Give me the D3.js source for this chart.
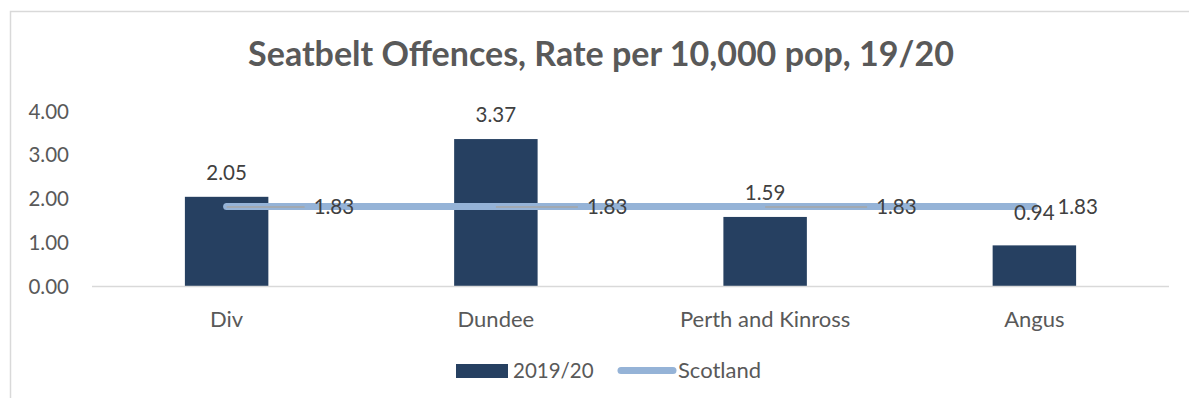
<!DOCTYPE html>
<html>
<head>
<meta charset="utf-8">
<script src="https://cdn.jsdelivr.net/npm/d3@7"></script>
<style>
  html, body { margin: 0; padding: 0; background: #fff; }
  svg { display: block; font-family: Lato, "Open Sans", sans-serif; }
</style>
</head>
<body>
<svg width="1189" height="398"></svg>
<script>
var width = 1189, height = 398;

// data
var categories = ["Div", "Dundee", "Perth and Kinross", "Angus"];
var rate1920 = [2.05, 3.37, 1.59, 0.94];
var scotland = [1.83, 1.83, 1.83, 1.83];
var yTicks = [0, 1, 2, 3, 4];
var seriesNames = ["2019/20", "Scotland"];
var title = "Seatbelt Offences, Rate per 10,000 pop, 19/20";

// label placement (as dragged in the original)
var barLabelGap = [17, 17, 17, 25];
var scotLabelDx = [87, 91, 111, 23];

var barColor = "#264061", lineColor = "#95B3D7", textGrey = "#595959", labelText = "#404040";
var numSize = 20.5, wordSize = 22;

var svg = d3.select("svg");

// outer chart frame
svg.append("rect")
    .attr("x", 10.5).attr("y", 11.5)
    .attr("width", 1200).attr("height", 420)
    .attr("fill", "none")
    .attr("stroke", "#d9d9d9")
    .attr("stroke-width", 1.5);

var margin = {left: 92, right: 1169, top: 111.5, bottom: 286.5};

var x = d3.scaleBand().domain(categories).range([margin.left, margin.right]).paddingInner(0.69).paddingOuter(0.345);
var y = d3.scaleLinear().domain([0, 4]).range([margin.bottom, margin.top]);

// title
var t = svg.append("text")
    .attr("x", 601).attr("y", 66)
    .attr("text-anchor", "middle")
    .attr("font-weight", "bold")
    .attr("font-size", 30)
    .attr("fill", textGrey)
    .text(title);
var tw = t.node().getComputedTextLength();
t.attr("font-size", 30 * 706 / tw);

// y axis (labels only)
var yAxis = svg.append("g")
    .attr("transform", "translate(" + 69 + ",0)")
    .call(d3.axisLeft(y).tickValues(yTicks).tickFormat(d3.format(".2f")).tickSize(0).tickPadding(0));
yAxis.select(".domain").remove();
yAxis.selectAll("text")
    .attr("font-family", "Lato, sans-serif")
    .attr("font-size", numSize)
    .attr("fill", textGrey);

// bars
svg.append("g").selectAll("rect")
    .data(categories)
    .join("rect")
    .attr("x", function (d) { return x(d); })
    .attr("y", function (d, i) { return y(rate1920[i]); })
    .attr("width", x.bandwidth())
    .attr("height", function (d, i) { return y(0) - y(rate1920[i]); })
    .attr("fill", barColor);

// x axis baseline + category labels
var xAxis = svg.append("g")
    .attr("transform", "translate(0," + y(0) + ")")
    .call(d3.axisBottom(x).tickSize(0).tickPadding(25));
xAxis.select(".domain")
    .attr("stroke", "#d9d9d9")
    .attr("stroke-width", 1.5)
    .attr("d", "M" + margin.left + ",0H" + margin.right);
xAxis.selectAll("text")
    .attr("font-family", "Lato, sans-serif")
    .attr("font-size", wordSize)
    .attr("fill", textGrey);

// Scotland line
var cx = function (d) { return x(d) + x.bandwidth() / 2; };
var line = d3.line()
    .x(function (d, i) { return cx(categories[i]); })
    .y(function (d) { return y(d); });

svg.append("path")
    .datum(scotland)
    .attr("d", line)
    .attr("fill", "none")
    .attr("stroke", lineColor)
    .attr("stroke-width", 7)
    .attr("stroke-linecap", "round");

// leader lines for Scotland labels
svg.append("g").selectAll("line")
    .data(scotland)
    .join("line")
    .filter(function (d, i) { return scotLabelDx[i] > 40; })
    .attr("x1", function (d, i) { return cx(categories[i]); })
    .attr("x2", function (d, i) { return cx(categories[i]) + scotLabelDx[i] - 9; })
    .attr("y1", function (d) { return y(d) + 0.5; })
    .attr("y2", function (d) { return y(d) + 0.5; })
    .attr("stroke", "#a6a6a6")
    .attr("stroke-width", 1.5);

// bar labels
svg.append("g").selectAll("text")
    .data(rate1920)
    .join("text")
    .attr("x", function (d, i) { return cx(categories[i]); })
    .attr("y", function (d, i) { return y(d) - barLabelGap[i]; })
    .attr("text-anchor", "middle")
    .attr("font-size", numSize)
    .attr("fill", labelText)
    .text(function (d) { return d3.format(".2f")(d); });

// Scotland labels
svg.append("g").selectAll("text")
    .data(scotland)
    .join("text")
    .attr("x", function (d, i) { return cx(categories[i]) + scotLabelDx[i]; })
    .attr("y", function (d) { return y(d) + 8; })
    .attr("font-size", numSize)
    .attr("fill", labelText)
    .text(function (d) { return d3.format(".2f")(d); });

// legend
var lg = svg.append("g");
lg.append("rect")
    .attr("x", 456).attr("y", 364)
    .attr("width", 52).attr("height", 14)
    .attr("fill", barColor);
lg.append("text")
    .attr("x", 513).attr("y", 378)
    .attr("font-size", numSize)
    .attr("fill", textGrey)
    .text(seriesNames[0]);
lg.append("line")
    .attr("x1", 621).attr("x2", 673)
    .attr("y1", 370.5).attr("y2", 370.5)
    .attr("stroke", lineColor)
    .attr("stroke-width", 7)
    .attr("stroke-linecap", "round");
lg.append("text")
    .attr("x", 678).attr("y", 378)
    .attr("font-size", wordSize)
    .attr("fill", textGrey)
    .text(seriesNames[1]);
</script>
</body>
</html>
